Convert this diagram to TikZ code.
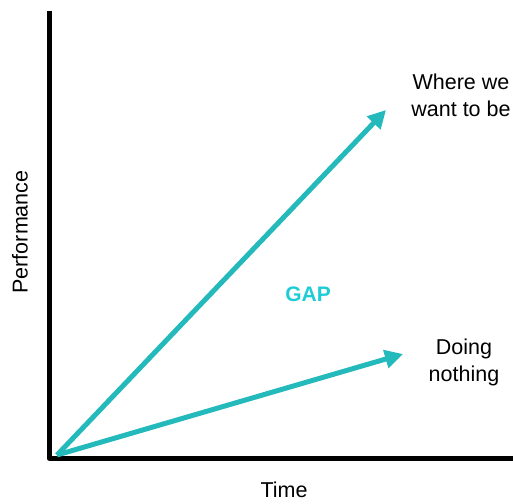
\documentclass[tikz,border=0pt]{standalone}
\usepackage{fontspec}
\setmainfont{Liberation Sans}
\usetikzlibrary{arrows.meta}
\definecolor{tealline}{RGB}{36,186,188}
\definecolor{gaptext}{RGB}{30,204,214}
\begin{document}
\begin{tikzpicture}[x=1pt,y=-1pt,
  axisline/.style={line width=5pt,black},
  trend/.style={line width=5pt,tealline,-{Triangle[length=18pt,width=18pt]}},
  lbl/.style={font=\fontsize{21.5}{27}\selectfont,align=center,inner sep=0pt}]
\useasboundingbox (0,0) rectangle (513,503);
% axes
\coordinate (top) at (49,11);
\coordinate (corner) at (49,458);
\coordinate (right) at (513,458);
\draw[axisline,line cap=butt,line join=round] (top) -- (corner) -- (right);
% trend lines from the origin
\coordinate (origin) at (57,455);
\coordinate (goal) at (386,110);
\coordinate (idle) at (403,354);
\draw[trend] (origin) -- (goal);
\draw[trend] (origin) -- (idle);
% labels
\node[lbl,rotate=90] (perf) at (20,232) {Performance};
\node[lbl] (time) at (284,490) {Time};
\node[lbl,font=\fontsize{21}{27}\selectfont\bfseries,text=gaptext] (gap) at (308,294) {GAP};
\node[lbl] (want) at (461,95) {Where we\\want to be};
\node[lbl] (doing) at (464,362) {Doing\\nothing};
\end{tikzpicture}
\end{document}
